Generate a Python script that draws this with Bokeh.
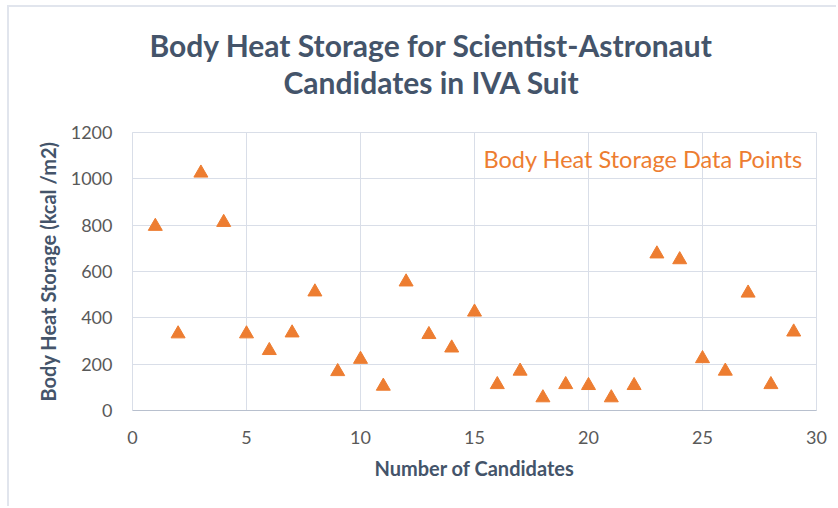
from bokeh.plotting import figure
from bokeh.models import Range1d, SingleIntervalTicker, Label, Title, InlineStyleSheet
from bokeh.embed import file_html
from bokeh.resources import INLINE

candidates = list(range(1, 30))
heat_storage = [795, 331, 1025, 812, 331, 259, 335, 512, 168, 221, 105, 555,
                328, 270, 425, 112, 170, 55, 112, 108, 55, 108, 676, 651,
                224, 170, 507, 112, 339]

title_lines = ["Body Heat Storage for Scientist-Astronaut", "Candidates in IVA Suit"]
x_label = "Number of Candidates"
y_label = "Body Heat Storage (kcal /m2)"
series_name = "Body Heat Storage Data Points"

ORANGE = "#ED7D31"
DARK = "#44546A"
TICK = "#595959"
GRID = "#D9DEE8"
FONT = "Lato"

p = figure(width=829, height=501, output_backend="svg", toolbar_location=None,
           x_range=Range1d(0, 30), y_range=Range1d(0, 1200),
           min_border_left=123, min_border_right=22,
           min_border_top=125, min_border_bottom=98)
p.styles = {"margin-left": "9px", "margin-top": "7px"}
p.stylesheets = [InlineStyleSheet(css=":host { box-shadow: -2px -2px 0 0 #E1E5ED; }")]

p.scatter(candidates, heat_storage, marker="triangle", size=14,
          fill_color=ORANGE, line_color=ORANGE)

p.xaxis.ticker = SingleIntervalTicker(interval=5)
p.yaxis.ticker = SingleIntervalTicker(interval=200)
for ax in (p.xaxis[0], p.yaxis[0]):
    ax.major_tick_line_color = None
    ax.minor_tick_line_color = None
    ax.major_tick_out = 0
    ax.major_tick_in = 0
    ax.minor_tick_out = 0
    ax.minor_tick_in = 0
    ax.major_label_text_font = FONT
    ax.major_label_text_font_size = "18px"
    ax.major_label_text_color = TICK
    ax.axis_label_text_font = FONT
    ax.axis_label_text_font_size = "20px"
    ax.axis_label_text_font_style = "bold"
    ax.axis_label_text_color = DARK
p.xaxis.axis_label = x_label
p.yaxis.axis_label = y_label
p.xaxis.axis_line_color = "#B8C0CE"
p.yaxis.axis_line_color = GRID
p.xaxis.major_label_standoff = 20
p.yaxis.major_label_standoff = 20
p.xaxis.axis_label_standoff = 9
p.yaxis.axis_label_standoff = 8

p.xgrid.grid_line_color = GRID
p.ygrid.grid_line_color = GRID
p.outline_line_color = GRID

# spacer between the plot frame and the two title lines
spacer = Title(text=" ", text_font_size="1px", standoff=30)
t2 = Title(text=title_lines[1], align="left", text_font=FONT, text_font_size="30px",
           text_font_style="bold", text_color=DARK, offset=151, standoff=0)
t1 = Title(text=title_lines[0], align="left", text_font=FONT, text_font_size="30px",
           text_font_style="bold", text_color=DARK, offset=17, standoff=-3)
p.add_layout(spacer, "above")
p.add_layout(t2, "above")
p.add_layout(t1, "above")

p.add_layout(Label(x=351, y=252, x_units="screen", y_units="screen", text=series_name,
                   text_font=FONT, text_font_size="23.5px", text_color=ORANGE,
                   text_baseline="middle"))

open("out.html", "w").write(file_html(p, INLINE))
